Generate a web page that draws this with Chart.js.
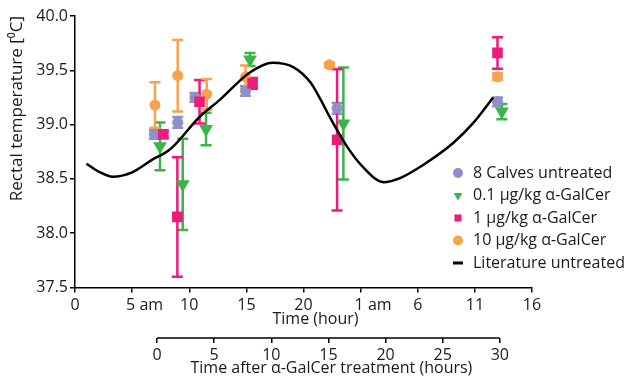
<!DOCTYPE html>
<html>
<head>
<meta charset="utf-8">
<script src="https://cdn.jsdelivr.net/npm/chart.js@4.4.1/dist/chart.umd.min.js"></script>
<style>
  html, body { margin: 0; padding: 0; background: #fff; }
  #wrap { width: 630px; height: 381px; }
</style>
</head>
<body>
<div id="wrap"><canvas id="chart" width="630" height="381"></canvas></div>
<script>
// clock hours on the main axis, temperature in degC, err = +/- bar
// (the "am" labels are padded so the number sits on its tick, as in the original)
const clockLabels = ["0", "      5 am", "10", "15", "20", "      1 am", "6", "11", "16"];
const treatmentTicks = [0, 5, 10, 15, 20, 25, 30];
const treatmentStart = 7.18; // clock hour when alpha-GalCer was given

const calvesHour = [6.94, 8.99, 10.5, 14.93, 22.94, 36.98];
const calvesTemp = [38.91, 39.02, 39.25, 39.31, 39.15, 39.21];
const calvesErr = [0.04, 0.05, 0.04, 0.045, 0.05, 0.04];

const dose01Hour = [7.44, 9.43, 11.47, 15.32, 23.49, 37.36];
const dose01Temp = [38.80, 38.45, 38.96, 39.60, 39.01, 39.12];
const dose01Err = [0.22, 0.42, 0.15, 0.06, 0.515, 0.07];

const dose1Hour = [7.73, 8.96, 10.9, 15.54, 22.94, 36.98];
const dose1Temp = [38.91, 38.15, 39.21, 39.38, 38.86, 39.66];
const dose1Err = [0.03, 0.55, 0.2, 0.05, 0.65, 0.145];

const dose10Hour = [7.0, 8.99, 11.53, 14.93, 22.27, 36.98];
const dose10Temp = [39.18, 39.45, 39.28, 39.44, 39.55, 39.44];
const dose10Err = [0.21, 0.33, 0.14, 0.105, 0.02, 0.03];

const litHour = [1.0, 2.2, 3.3, 5.0, 6.8, 8.3, 10.9, 12.7, 15.3, 17.3, 19.1, 20.6, 21.5, 22.3, 23.8, 25.2, 27.0, 28.5, 30.5, 33.1, 34.9, 36.6];
const litTemp = [38.64, 38.56, 38.52, 38.56, 38.68, 38.77, 39.07, 39.23, 39.48, 39.57, 39.53, 39.39, 39.23, 39.07, 38.80, 38.61, 38.47, 38.51, 38.63, 38.83, 39.02, 39.25];

const toPoints = (xs, ys) => xs.map((v, i) => ({ x: v, y: ys[i] }));
const font = { family: "'Open Sans', sans-serif", size: 16 };
const ink = "#1a1a1a";

Chart.defaults.font.family = font.family;
Chart.defaults.font.size = font.size;
Chart.defaults.color = ink;

const errorBars = {
  id: "errorBars",
  beforeDatasetsDraw(chart) {
    const { ctx, scales: { x, y } } = chart;
    chart.data.datasets.forEach((ds) => {
      if (!ds.err) return;
      ctx.save();
      ctx.strokeStyle = ds.backgroundColor;
      ctx.lineWidth = 2.5;
      ds.data.forEach((p, j) => {
        const px = x.getPixelForValue(p.x);
        const top = y.getPixelForValue(p.y + ds.err[j]);
        const bot = y.getPixelForValue(p.y - ds.err[j]);
        ctx.beginPath();
        ctx.moveTo(px, top); ctx.lineTo(px, bot);
        ctx.moveTo(px - 5.5, top); ctx.lineTo(px + 5.5, top);
        ctx.moveTo(px - 5.5, bot); ctx.lineTo(px + 5.5, bot);
        ctx.stroke();
      });
      ctx.restore();
    });
  }
};

const extras = {
  id: "extras",
  afterDraw(chart) {
    const { ctx, scales: { x, x2 } } = chart;
    ctx.save();
    // second axis line only covers 0..30 h after treatment
    ctx.strokeStyle = "#000";
    ctx.lineWidth = 1.5;
    ctx.beginPath();
    ctx.moveTo(x2.getPixelForValue(0), x2.top);
    ctx.lineTo(x2.getPixelForValue(30), x2.top);
    ctx.stroke();

    ctx.fillStyle = ink;
    ctx.font = "16px " + font.family;
    ctx.textAlign = "center";
    ctx.textBaseline = "middle";
    ctx.fillText("Time (hour)", (x.left + x.right) / 2 + 12, x.bottom - 19);
    ctx.fillText("Time after \u03b1-GalCer treatment (hours)",
      (x2.getPixelForValue(0) + x2.getPixelForValue(30)) / 2 + 3, x2.bottom - 13);

    // legend
    ctx.textAlign = "left";
    chart.data.datasets.forEach((ds, i) => {
      const cy = 173 + i * 22.5;
      const cx = 458;
      ctx.fillStyle = ds.borderColor;
      if (ds.type === "line") {
        ctx.fillRect(cx - 5, cy - 1.5, 10, 3);
      } else {
        Chart.helpers.drawPoint(ctx, {
          pointStyle: ds.pointStyle, rotation: ds.pointRotation || 0,
          radius: 5, borderWidth: 0
        }, cx, cy);
      }
      ctx.fillStyle = ink;
      ctx.fillText(ds.label, 473, cy);
    });
    ctx.restore();
  }
};

const bottomTicks = { color: ink, padding: 3, maxRotation: 0, autoSkip: false };
const tickGrid = { drawOnChartArea: false, drawTicks: true, tickLength: 5, color: "#000", lineWidth: 1.5 };

new Chart(document.getElementById("chart"), {
  type: "scatter",
  data: {
    datasets: [
      {
        label: "8 Calves untreated", data: toPoints(calvesHour, calvesTemp), err: calvesErr,
        backgroundColor: "#8e90c9", borderColor: "#8e90c9",
        pointStyle: "circle", pointRadius: 5.5, borderWidth: 0, order: 3
      },
      {
        label: "0.1 \u03bcg/kg \u03b1-GalCer", data: toPoints(dose01Hour, dose01Temp), err: dose01Err,
        backgroundColor: "#39b54a", borderColor: "#39b54a",
        pointStyle: "triangle", pointRotation: 180, pointRadius: 8, borderWidth: 0, order: 2
      },
      {
        label: "1 \u03bcg/kg \u03b1-GalCer", data: toPoints(dose1Hour, dose1Temp), err: dose1Err,
        backgroundColor: "#ec1c7d", borderColor: "#ec1c7d",
        pointStyle: "rect", pointRadius: 7.5, borderWidth: 0, order: 1
      },
      {
        label: "10 \u03bcg/kg \u03b1-GalCer", data: toPoints(dose10Hour, dose10Temp), err: dose10Err,
        backgroundColor: "#f7a24c", borderColor: "#f7a24c",
        pointStyle: "circle", pointRadius: 5.5, borderWidth: 0, order: 4
      },
      {
        type: "line", label: "Literature untreated", data: toPoints(litHour, litTemp),
        borderColor: "#000", backgroundColor: "#000", borderWidth: 2.5,
        pointRadius: 0, fill: false, cubicInterpolationMode: "monotone", order: 0
      }
    ]
  },
  options: {
    responsive: false,
    animation: false,
    layout: { padding: { top: 16, right: 98, bottom: 0, left: 0 } },
    plugins: { legend: { display: false }, tooltip: { enabled: false } },
    scales: {
      x: {
        type: "linear", position: "bottom", min: 0, max: 40,
        ticks: { ...bottomTicks, stepSize: 5, callback: (v) => clockLabels[Math.round(v / 5)] },
        grid: tickGrid,
        border: { color: "#000", width: 1.5 },
        afterFit: (s) => { s.height = 50.5; }
      },
      x2: {
        type: "linear", position: "bottom",
        min: -treatmentStart, max: 40 - treatmentStart,
        afterBuildTicks: (s) => { s.ticks = treatmentTicks.map((v) => ({ value: v })); },
        ticks: { ...bottomTicks, callback: (v) => String(v) },
        grid: tickGrid,
        border: { display: false },
        afterFit: (s) => { s.height = 43; }
      },
      y: {
        min: 37.5, max: 40,
        ticks: { stepSize: 0.5, color: ink, padding: 2, callback: (v) => v.toFixed(1) },
        grid: tickGrid,
        border: { color: "#000", width: 1.5 },
        title: {
          display: true, text: "Rectal temperature [\u2070C]", color: ink,
          font: { size: 17 }, align: "end", padding: { top: 7 }
        },
        afterFit: (s) => { s.width = 75; }
      }
    }
  },
  plugins: [errorBars, extras]
});
</script>
</body>
</html>
